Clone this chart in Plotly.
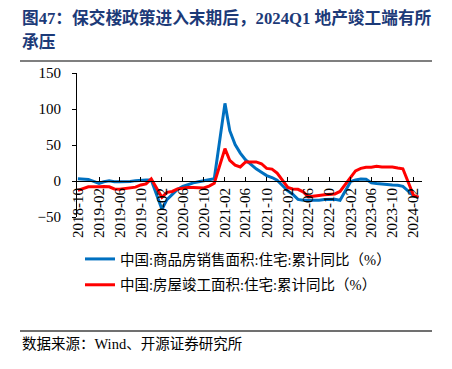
import plotly.graph_objects as go

# ---- data ----
months = [
    "2018-10", "2018-11", "2018-12",
    "2019-02", "2019-03", "2019-04", "2019-05", "2019-06", "2019-07", "2019-08", "2019-09", "2019-10", "2019-11", "2019-12",
    "2020-02", "2020-03", "2020-04", "2020-05", "2020-06", "2020-07", "2020-08", "2020-09", "2020-10", "2020-11", "2020-12",
    "2021-02", "2021-03", "2021-04", "2021-05", "2021-06", "2021-07", "2021-08", "2021-09", "2021-10", "2021-11", "2021-12",
    "2022-02", "2022-03", "2022-04", "2022-05", "2022-06", "2022-07", "2022-08", "2022-09", "2022-10", "2022-11", "2022-12",
    "2023-02", "2023-03", "2023-04", "2023-05", "2023-06", "2023-07", "2023-08", "2023-09", "2023-10", "2023-11", "2023-12",
    "2024-02", "2024-03",
]
sales_yoy = [
    3.0, 2.5, 2.2,
    -3.2, -1.0, 0.3, -0.9, -1.0, -0.9, -0.6, 0.5, 1.3, 1.5, 1.5,
    -39.2, -25.9, -19.4, -11.8, -7.6, -4.9, -2.6, -1.0, 0.6, 1.9, 3.2,
    107.8, 69.9, 50.6, 38.7, 29.4, 22.9, 16.9, 12.1, 7.5, 4.8, 1.1,
    -13.8, -18.3, -25.5, -26.6, -26.6, -26.7, -26.8, -25.7, -25.3, -25.5, -26.8,
    -0.6, 1.4, 2.7, 2.3, -2.5, -3.5, -4.5, -5.0, -5.5, -6.0, -7.5,
    -20.5, -23.5,
]
completion_yoy = [
    -13.0, -11.0, -8.1,
    -8.0, -7.5, -8.0, -11.0, -11.5, -10.5, -9.5, -8.5, -5.5, -4.0, 3.0,
    -22.6, -15.8, -14.5, -11.0, -9.5, -9.0, -9.0, -9.5, -9.7, -7.0, -3.1,
    45.0, 28.5, 22.0, 19.5, 26.5, 27.0, 26.5, 24.0, 17.5, 16.5, 11.0,
    -9.0, -11.0, -11.5, -15.0, -22.0, -21.5, -20.0, -19.0, -18.5, -18.0, -14.5,
    5.0, 14.0, 17.5, 19.0, 19.0, 20.5, 19.5, 19.5, 19.5, 18.0, 17.0,
    -20.2, -22.5,
]
name_sales = "中国:商品房销售面积:住宅:累计同比（%）"
name_completion = "中国:房屋竣工面积:住宅:累计同比（%）"
title_line1 = "图47：保交楼政策进入末期后，2024Q1 地产竣工端有所"
title_line2 = "承压"
source_text = "数据来源：Wind、开源证券研究所"

FONT = "Liberation Serif, Times New Roman, Noto Sans CJK SC, serif"
W, H = 452, 369
L, R, T, B = 77, 30, 73, 152
PW, PH = W - L - R, H - T - B


def px(x):
    return (x - L) / PW


def py(y):
    return (H - B - y) / PH


fig = go.Figure()
fig.add_trace(go.Scatter(x=months, y=sales_yoy, mode="lines", name=name_sales,
                         line=dict(color="#0070C0", width=3), legendgroup="a"))
fig.add_trace(go.Scatter(x=months, y=completion_yoy, mode="lines", name=name_completion,
                         line=dict(color="#FF0000", width=3), legendgroup="b"))

fig.update_layout(
    width=W, height=H,
    margin=dict(l=L, r=R, t=T, b=B, autoexpand=False),
    paper_bgcolor="white", plot_bgcolor="white",
    font=dict(family=FONT, color="black", size=14),
    showlegend=True,
    legend=dict(x=px(80), y=py(243), xanchor="left", yanchor="top",
                font=dict(family=FONT, size=14.5, color="black"),
                tracegroupgap=4, bgcolor="rgba(0,0,0,0)"),
    xaxis=dict(type="date", range=["2018-09-26", "2024-03-21"],
               tick0="2018-10-01", dtick="M4", tickformat="%Y-%m",
               tickangle=-90, ticks="inside", ticklen=4, tickcolor="black",
               showline=True, linecolor="black", linewidth=1,
               showgrid=False, zeroline=False,
               anchor="free", position=0.25,
               tickfont=dict(family=FONT, size=15, color="black")),
    yaxis=dict(range=[-50, 150], dtick=50, ticks="outside", ticklen=4,
               tickcolor="black", showline=True, linecolor="black", linewidth=1,
               showgrid=False, zeroline=False, ticklabelstandoff=8,
               tickfont=dict(family=FONT, size=15, color="black")),
)

fig.add_annotation(text="<b>" + title_line1 + "</b>", xref="paper", yref="paper",
                   x=px(20), y=py(18), xanchor="left", yanchor="middle", showarrow=False,
                   font=dict(family=FONT, size=16.7, color="#1c3a78"))
fig.add_annotation(text="<b>" + title_line2 + "</b>", xref="paper", yref="paper",
                   x=px(20), y=py(42), xanchor="left", yanchor="middle", showarrow=False,
                   font=dict(family=FONT, size=16.7, color="#1c3a78"))
fig.add_annotation(text=source_text, xref="paper", yref="paper",
                   x=px(20), y=py(344), xanchor="left", yanchor="middle", showarrow=False,
                   font=dict(family=FONT, size=14.5, color="black"))

fig.add_shape(type="line", xref="paper", yref="paper", x0=px(20), x1=px(432),
              y0=py(61), y1=py(61), line=dict(color="#7f7f7f", width=2))
fig.add_shape(type="line", xref="paper", yref="paper", x0=px(20), x1=px(432),
              y0=py(331), y1=py(331), line=dict(color="#404040", width=1.5))

fig.write_html("out.html", config={"displayModeBar": False},
               post_script="document.body.style.margin='0px';")
